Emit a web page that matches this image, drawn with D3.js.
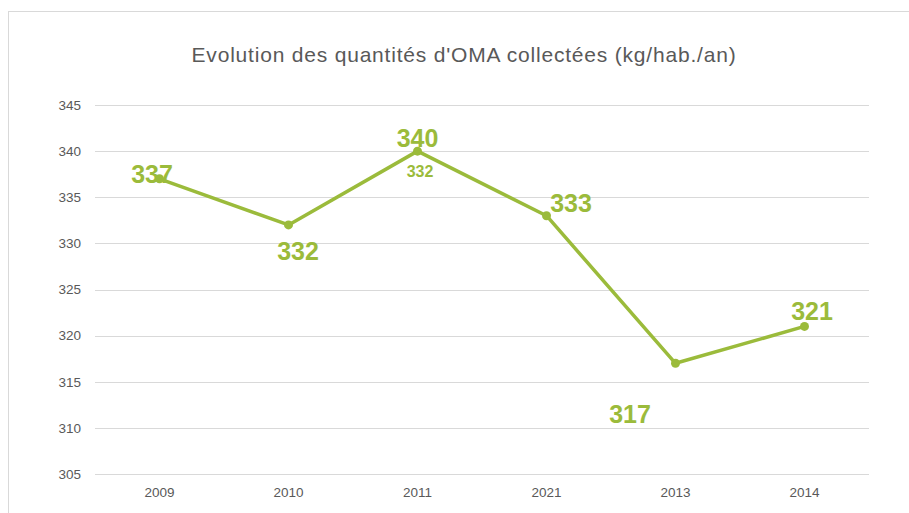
<!DOCTYPE html>
<html>
<head>
<meta charset="utf-8">
<script src="https://cdn.jsdelivr.net/npm/d3@7"></script>
<style>
    body { margin: 0; background: #fff; }
    .tick text { font-family: "Liberation Sans", Arial, sans-serif; }
</style>
</head>
<body>
<svg id="chart"></svg>
<script>
// data
const years = ['2009', '2010', '2011', '2021', '2013', '2014'];
const values = [337, 332, 340, 333, 317, 321];
const yTicks = [305, 310, 315, 320, 325, 330, 335, 340, 345];
const title = "Evolution des quantités d'OMA collectées (kg/hab./an)";
// stray small label sitting under the 2011 point
const extraLabels = [{ year: '2011', text: '332' }];

const width = 909, height = 513;
const margin = { top: 105, right: 40, bottom: 39, left: 95 };
const green = '#9bbb3b';

let svg = d3.select('#chart')
    .attr('width', width)
    .attr('height', height);

// chart frame (only left/top edges visible in the window)
svg.append('rect')
    .attr('x', 8.5).attr('y', 11.5)
    .attr('width', width + 20).attr('height', height + 20)
    .attr('fill', 'none')
    .attr('stroke', '#d9d9d9');

let x = d3.scaleBand()
    .domain(years)
    .range([margin.left, width - margin.right]);

let y = d3.scaleLinear()
    .domain([305, 345])
    .range([height - margin.bottom, margin.top]);

// gridlines
svg.append('g')
    .selectAll('line')
    .data(yTicks)
    .join('line')
    .attr('x1', margin.left)
    .attr('x2', width - margin.right)
    .attr('y1', d => Math.round(y(d)) + 0.5)
    .attr('y2', d => Math.round(y(d)) + 0.5)
    .attr('stroke', '#d9d9d9')
    .attr('stroke-width', 1);

// y axis labels
let yAxis = svg.append('g')
    .attr('transform', 'translate(' + (margin.left - 14) + ',0)')
    .call(d3.axisLeft(y).tickValues(yTicks).tickSize(0).tickPadding(0));
yAxis.select('.domain').remove();
yAxis.selectAll('text')
    .attr('fill', '#595959')
    .style('font-size', '13.5px');

// x axis labels
let xAxis = svg.append('g')
    .attr('transform', 'translate(0,' + (height - margin.bottom) + ')')
    .call(d3.axisBottom(x).tickSize(0).tickPadding(13));
xAxis.select('.domain').remove();
xAxis.selectAll('text')
    .attr('fill', '#595959')
    .style('font-size', '13.5px');

// title
svg.append('text')
    .attr('x', 464)
    .attr('y', 62)
    .attr('text-anchor', 'middle')
    .attr('fill', '#595959')
    .style('font-family', '"Liberation Sans", Arial, sans-serif')
    .style('font-size', '21px')
    .style('letter-spacing', '0.8px')
    .text(title);

let cx = d => x(d) + x.bandwidth() / 2;

// line
svg.append('path')
    .datum(values)
    .attr('fill', 'none')
    .attr('stroke', green)
    .attr('stroke-width', 3.5)
    .attr('stroke-linejoin', 'round')
    .attr('d', d3.line()
        .x((d, i) => cx(years[i]))
        .y(d => y(d)));

// markers
svg.append('g')
    .selectAll('circle')
    .data(values)
    .join('circle')
    .attr('cx', (d, i) => cx(years[i]))
    .attr('cy', d => y(d))
    .attr('r', 4.5)
    .attr('fill', green);

// data labels, placed by hand like in the original
const labelOffsets = [[-7.5, 4.5], [9.5, 35], [0, -4.5], [24.5, -3.4], [-45.5, 59.4], [7.5, -6.4]];
svg.append('g')
    .selectAll('text')
    .data(values)
    .join('text')
    .attr('x', (d, i) => cx(years[i]) + labelOffsets[i][0])
    .attr('y', d => y(d))
    .attr('dy', (d, i) => labelOffsets[i][1])
    .attr('text-anchor', 'middle')
    .attr('fill', green)
    .style('font-family', '"Liberation Sans", Arial, sans-serif')
    .style('font-weight', 'bold')
    .style('font-size', '25px')
    .text(d => d);

svg.append('g')
    .selectAll('text')
    .data(extraLabels)
    .join('text')
    .attr('x', d => cx(d.year) + 2.5)
    .attr('y', d => y(values[years.indexOf(d.year)]) + 25.5)
    .attr('text-anchor', 'middle')
    .attr('fill', green)
    .style('font-family', '"Liberation Sans", Arial, sans-serif')
    .style('font-weight', 'bold')
    .style('font-size', '16px')
    .text(d => d.text);
</script>
</body>
</html>
